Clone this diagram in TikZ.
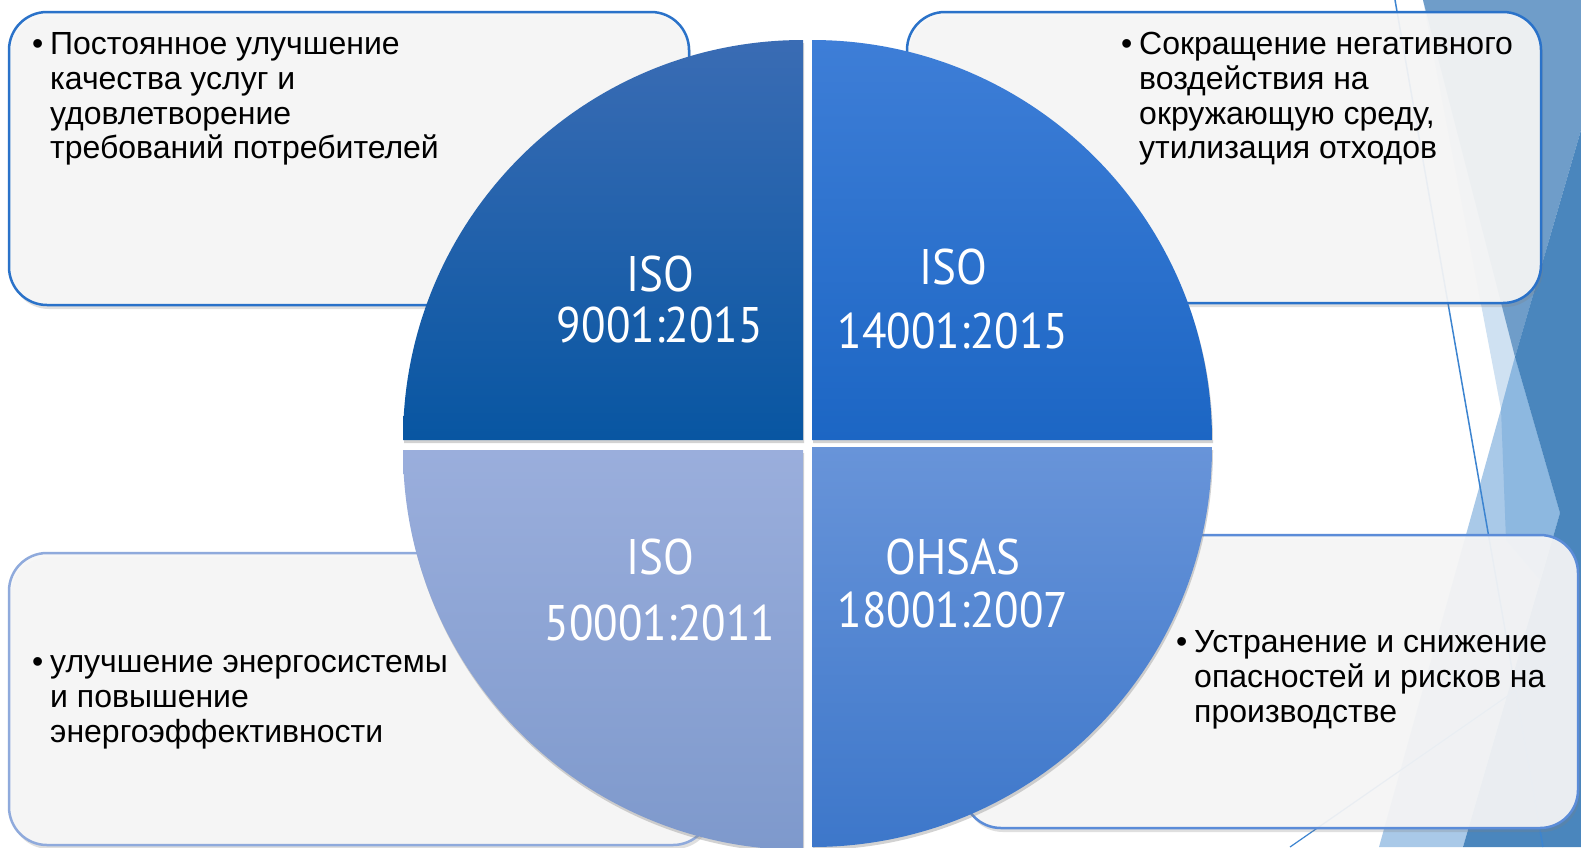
\documentclass[tikz,border=0pt]{standalone}
\usepackage{fontspec}
\setmainfont{Liberation Sans}
\newfontfamily\isofont[FakeStretch=0.9]{PT Sans}
\usetikzlibrary{shadows}

\definecolor{boxblue}{HTML}{2A72C9}
\definecolor{boxpale}{HTML}{8FAADC}
\definecolor{boxmid}{HTML}{5B8CD8}
\definecolor{boxfill}{HTML}{F7F7F7}
\definecolor{facetdark}{HTML}{4A86BD}
\definecolor{facetmid}{HTML}{6F9DC9}
\definecolor{facetlight}{HTML}{CFE1F2}
\definecolor{facetsky}{HTML}{A9C9E8}
\definecolor{facetband}{HTML}{8DB8E0}
\definecolor{facetline}{HTML}{3C84D0}
\definecolor{qtltop}{HTML}{3A6CB4}
\definecolor{qtlbot}{HTML}{0856A2}
\definecolor{qtrtop}{HTML}{3E7ED7}
\definecolor{qtrbot}{HTML}{1C66C4}
\definecolor{qbltop}{HTML}{9AAEDC}
\definecolor{qblbot}{HTML}{7E99CC}
\definecolor{qbrtop}{HTML}{6894D9}
\definecolor{qbrbot}{HTML}{3D77CA}

\newcommand{\bullets}[1]{\begin{tabular}{@{}p{18pt}@{}l@{}}\textbullet & #1\end{tabular}}

\tikzset{
  infobox/.style={fill=boxfill, fill opacity=.92, line width=2.5pt, rounded corners=38pt,
    drop shadow={shadow xshift=2pt, shadow yshift=-4pt, opacity=.25}},
  quarter/.style={drop shadow={shadow xshift=1pt, shadow yshift=-3pt, opacity=.35}},
  itemtext/.style={anchor=north west, inner sep=0pt, font=\fontsize{32}{34.8}\selectfont},
  isolabel/.style={text=white, inner sep=0pt, font=\isofont\fontsize{50}{54}\selectfont}
}

\begin{document}
\begin{tikzpicture}[x=1pt, y=-1pt]
\useasboundingbox (0,0) rectangle (1581,847);
\clip (0,0) rectangle (1581,847);
\fill[white] (0,0) rectangle (1581,847);

% facets on the right edge
\fill[facetlight] (1423,0) -- (1581,0) -- (1540,300) -- (1501,409) -- cycle;
\fill[facetsky] (1379,847) -- (1501,409) -- (1515,357) -- (1560,513) -- (1463,847) -- cycle;
\fill[facetband] (1501,409) -- (1515,357) -- (1560,513) -- (1540,580) -- (1506,540) -- cycle;
\fill[facetmid] (1423,0) -- (1581,0) -- (1581,130) -- (1515,357) -- cycle;
\fill[facetdark] (1581,130) -- (1515,357) -- (1560,513) -- (1463,847) -- (1581,847) -- cycle;
\draw[facetline, line width=1.5pt] (1395,0) -- (1543,847);
\draw[facetline, line width=1.2pt] (1290,847) -- (1581,645);

% boxes
\draw[infobox, draw=boxblue] (9,12) rectangle (689,305);
\draw[infobox, draw=boxblue] (907,12) rectangle (1541,303);
\draw[infobox, draw=boxpale] (9,553) rectangle (711,845);
\draw[infobox, draw=boxmid] (963,535) rectangle (1578,828);

% circle in four quarters
\path[quarter, top color=qtltop, bottom color=qtlbot]
  (803,440) -- (403,440) arc[start angle=180, end angle=270, radius=400] -- cycle;
\path[quarter, top color=qtrtop, bottom color=qtrbot]
  (812,440) -- (812,40) arc[start angle=270, end angle=360, radius=400] -- cycle;
\path[quarter, top color=qbrtop, bottom color=qbrbot]
  (812,447) -- (1212,447) arc[start angle=0, end angle=90, radius=400] -- cycle;
\path[quarter, top color=qbltop, bottom color=qblbot]
  (803,450) -- (803,850) arc[start angle=90, end angle=180, radius=400] -- cycle;

\node[isolabel] (q9a) at (660,274) {ISO};
\node[isolabel] (q9b) at (660,325) {9001:2015};
\node[isolabel] (q14a) at (953,267) {ISO};
\node[isolabel] (q14b) at (953,331) {14001:2015};
\node[isolabel] (q50a) at (660,557) {ISO};
\node[isolabel] (q50b) at (660,623) {50001:2011};
\node[isolabel] (q18a) at (953,557) {OHSAS};
\node[isolabel] (q18b) at (953,610) {18001:2007};

% box texts
\node[itemtext] (txt9) at (32,30) {\bullets{Постоянное улучшение\\ & качества услуг и\\ & удовлетворение\\ & требований потребителей}};
\node[itemtext] (txt14) at (1121,30) {\bullets{Сокращение негативного\\ & воздействия на\\ & окружающую среду,\\ & утилизация отходов}};
\node[itemtext] (txt50) at (32,648) {\bullets{улучшение энергосистемы\\ & и повышение\\ & энергоэффективности}};
\node[itemtext] (txt18) at (1176,628) {\bullets{Устранение и снижение\\ & опасностей и рисков на\\ & производстве}};
\end{tikzpicture}
\end{document}
